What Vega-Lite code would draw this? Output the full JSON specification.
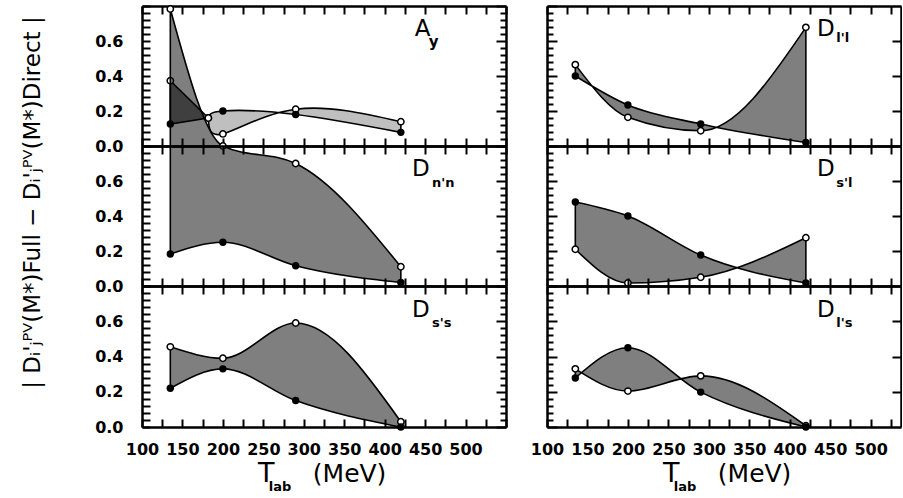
{
  "$schema": "https://vega.github.io/schema/vega-lite/v6.json",
  "padding": {"left": 20, "top": -2, "right": 0, "bottom": 0},
  "background": "white",
  "bounds": "flush",
  "columns": 2,
  "spacing": {"row": 0, "column": 41},
  "datasets": {
    "curves": [
      {"p": "Ay", "s": 1, "T": 135, "o": 0.373, "f": 0.126},
      {"p": "Ay", "s": 1, "T": 182, "o": 0.16, "f": 0.16},
      {"p": "Ay", "s": 2, "T": 182, "o": 0.16, "f": 0.16},
      {"p": "Ay", "s": 2, "T": 200, "o": 0.069, "f": 0.2},
      {"p": "Ay", "s": 2, "T": 290, "o": 0.21, "f": 0.18},
      {"p": "Ay", "s": 2, "T": 420, "o": 0.139, "f": 0.078},
      {"p": "Dnn", "s": 1, "T": 135, "o": 1.583, "f": 0.183},
      {"p": "Dnn", "s": 1, "T": 200, "o": 0.8, "f": 0.25},
      {"p": "Dnn", "s": 1, "T": 290, "o": 0.7, "f": 0.116},
      {"p": "Dnn", "s": 1, "T": 420, "o": 0.11, "f": 0.02},
      {"p": "Dss", "s": 1, "T": 135, "o": 0.455, "f": 0.22},
      {"p": "Dss", "s": 1, "T": 200, "o": 0.39, "f": 0.33},
      {"p": "Dss", "s": 1, "T": 290, "o": 0.59, "f": 0.15},
      {"p": "Dss", "s": 1, "T": 420, "o": 0.03, "f": 0.0},
      {"p": "Dll", "s": 1, "T": 135, "o": 0.465, "f": 0.4},
      {"p": "Dll", "s": 1, "T": 200, "o": 0.164, "f": 0.234},
      {"p": "Dll", "s": 1, "T": 290, "o": 0.087, "f": 0.126},
      {"p": "Dll", "s": 1, "T": 420, "o": 0.678, "f": 0.02},
      {"p": "Dsl", "s": 1, "T": 135, "o": 0.21, "f": 0.48},
      {"p": "Dsl", "s": 1, "T": 200, "o": 0.017, "f": 0.4},
      {"p": "Dsl", "s": 1, "T": 290, "o": 0.05, "f": 0.177},
      {"p": "Dsl", "s": 1, "T": 420, "o": 0.276, "f": 0.017},
      {"p": "Dls", "s": 1, "T": 135, "o": 0.33, "f": 0.278},
      {"p": "Dls", "s": 1, "T": 200, "o": 0.204, "f": 0.45},
      {"p": "Dls", "s": 1, "T": 290, "o": 0.29, "f": 0.198},
      {"p": "Dls", "s": 1, "T": 420, "o": 0.007, "f": 0.0}
    ]
  },
  "concat": [
    {
      "width": 364, "height": 140,
      "data": {"name": "curves"},
      "resolve": {"axis": {"x": "independent", "y": "independent"}},
      "layer": [
        {
          "transform": [{"filter": "datum.p == 'Ay'"}],
          "mark": {"type": "area", "interpolate": "natural", "fill": "black", "stroke": "black", "strokeWidth": 1.6},
          "encoding": {
            "x": {"field": "T", "type": "quantitative", "scale": {"domain": [100, 550], "nice": false, "zero": false},
              "axis": {"orient": "bottom", "values": [100,125,150,175,200,225,250,275,300,325,350,375,400,425,450,475,500,525,550], "ticks": true, "tickColor": "black", "tickWidth": 2, "tickSize": -8, "labels": false, "title": null, "zindex": 1}},
            "y": {"field": "o", "type": "quantitative", "stack": null, "scale": {"domain": [0, 0.8], "nice": false, "zero": false},
              "axis": {"orient": "left", "values": [0,0.04,0.08,0.12,0.16,0.2,0.24,0.28,0.32,0.36,0.4,0.44,0.48,0.52,0.56,0.6,0.64,0.68,0.72,0.76,0.8], "ticks": true, "tickColor": "black", "tickWidth": 2, "tickSize": -8, "labelExpr": "abs(datum.value * 5 - round(datum.value * 5)) < 0.01 && datum.value < 0.7 ? format(datum.value, '.1f') : ''", "labelPadding": 27, "labelOverlap": false, "labelFlush": false, "title": null, "zindex": 1}},
            "y2": {"field": "f"},
            "fillOpacity": {"field": "s", "type": "ordinal", "scale": {"domain": [1, 2], "range": [0.5, 0.25]}, "legend": null}
          }
        },
        {
          "transform": [{"filter": "datum.p == 'Ay'"}],
          "mark": {"type": "point", "shape": "circle", "filled": true, "fill": "white", "stroke": "black", "strokeWidth": 1.5, "size": 40, "opacity": 1},
          "encoding": {
            "x": {"field": "T", "type": "quantitative", "scale": {"domain": [100, 550], "nice": false, "zero": false},
              "axis": {"orient": "top", "values": [100,125,150,175,200,225,250,275,300,325,350,375,400,425,450,475,500,525,550], "ticks": true, "tickColor": "black", "tickWidth": 2, "tickSize": -8, "labels": false, "zindex": 1,
                "title": "A", "titleX": 280, "titleY": 29.75, "titleAngle": 0, "titleAlign": "center", "titleBaseline": "alphabetic", "titleFontSize": 23}},
            "y": {"field": "o", "type": "quantitative", "scale": {"domain": [0, 0.8], "nice": false, "zero": false},
              "axis": {"orient": "right", "values": [0,0.04,0.08,0.12,0.16,0.2,0.24,0.28,0.32,0.36,0.4,0.44,0.48,0.52,0.56,0.6,0.64,0.68,0.72,0.76,0.8], "ticks": true, "tickColor": "black", "tickWidth": 2, "tickSize": {"expr": "abs(datum.value * 5 - round(datum.value * 5)) < 0.01 ? -10 : -6"}, "labels": false, "zindex": 1,
                "title": "y", "titleX": -77.7, "titleY": 40.25, "titleAngle": 0, "titleAlign": "left", "titleBaseline": "alphabetic", "titleFontSize": 15, "titleFontWeight": "bold"}}
          }
        },
        {
          "transform": [{"filter": "datum.p == 'Ay' && datum.T != 182"}],
          "mark": {"type": "circle", "size": 55, "color": "black", "opacity": 1},
          "encoding": {
            "x": {"field": "T", "type": "quantitative", "scale": {"domain": [100, 550], "nice": false, "zero": false}, "axis": null},
            "y": {"field": "f", "type": "quantitative", "scale": {"domain": [0, 0.8], "nice": false, "zero": false}, "axis": null}
          }
        }
      ]
    },
    {
      "width": 354, "height": 140,
      "data": {"name": "curves"},
      "resolve": {"axis": {"x": "independent", "y": "independent"}},
      "layer": [
        {
          "transform": [{"filter": "datum.p == 'Dll'"}],
          "mark": {"type": "area", "interpolate": "monotone", "fill": "black", "fillOpacity": 0.5, "stroke": "black", "strokeWidth": 1.6},
          "encoding": {
            "x": {"field": "T", "type": "quantitative", "scale": {"domain": [100, 537.6], "nice": false, "zero": false},
              "axis": {"orient": "bottom", "values": [100,125,150,175,200,225,250,275,300,325,350,375,400,425,450,475,500,525], "ticks": true, "tickColor": "black", "tickWidth": 2, "tickSize": -8, "labels": false, "title": null, "zindex": 1}},
            "y": {"field": "o", "type": "quantitative", "stack": null, "scale": {"domain": [0, 0.8], "nice": false, "zero": false},
              "axis": {"orient": "left", "values": [0,0.04,0.08,0.12,0.16,0.2,0.24,0.28,0.32,0.36,0.4,0.44,0.48,0.52,0.56,0.6,0.64,0.68,0.72,0.76,0.8], "ticks": true, "tickColor": "black", "tickWidth": 2, "tickSize": {"expr": "abs(datum.value * 5 - round(datum.value * 5)) < 0.01 ? -10 : -6"}, "labels": false, "title": null, "zindex": 1}},
            "y2": {"field": "f"}
          }
        },
        {
          "transform": [{"filter": "datum.p == 'Dll'"}],
          "mark": {"type": "point", "shape": "circle", "filled": true, "fill": "white", "stroke": "black", "strokeWidth": 1.5, "size": 40, "opacity": 1},
          "encoding": {
            "x": {"field": "T", "type": "quantitative", "scale": {"domain": [100, 537.6], "nice": false, "zero": false},
              "axis": {"orient": "top", "values": [100,125,150,175,200,225,250,275,300,325,350,375,400,425,450,475,500,525], "ticks": true, "tickColor": "black", "tickWidth": 2, "tickSize": -8, "labels": false, "zindex": 1,
                "title": "D", "titleX": 278.3, "titleY": 29.75, "titleAngle": 0, "titleAlign": "center", "titleBaseline": "alphabetic", "titleFontSize": 23}},
            "y": {"field": "o", "type": "quantitative", "scale": {"domain": [0, 0.8], "nice": false, "zero": false},
              "axis": {"orient": "right", "values": [0.2, 0.4, 0.6], "ticks": true, "tickColor": "black", "tickWidth": 2, "tickSize": -9, "labels": false, "zindex": 1,
                "title": "l'l", "titleX": -65.2, "titleY": 35, "titleAngle": 0, "titleAlign": "left", "titleBaseline": "alphabetic", "titleFontSize": 13, "titleFontWeight": "bold"}}
          }
        },
        {
          "transform": [{"filter": "datum.p == 'Dll'"}],
          "mark": {"type": "circle", "size": 55, "color": "black", "opacity": 1},
          "encoding": {
            "x": {"field": "T", "type": "quantitative", "scale": {"domain": [100, 537.6], "nice": false, "zero": false}, "axis": null},
            "y": {"field": "f", "type": "quantitative", "scale": {"domain": [0, 0.8], "nice": false, "zero": false}, "axis": null}
          }
        }
      ]
    },
    {
      "width": 364, "height": 140,
      "data": {"name": "curves"},
      "resolve": {"axis": {"x": "independent", "y": "independent"}},
      "layer": [
        {
          "transform": [{"filter": "datum.p == 'Dnn'"}],
          "mark": {"type": "area", "interpolate": "monotone", "fill": "black", "fillOpacity": 0.5, "stroke": "black", "strokeWidth": 1.6},
          "encoding": {
            "x": {"field": "T", "type": "quantitative", "scale": {"domain": [100, 550], "nice": false, "zero": false},
              "axis": {"orient": "bottom", "values": [100,125,150,175,200,225,250,275,300,325,350,375,400,425,450,475,500,525,550], "ticks": true, "tickColor": "black", "tickWidth": 2, "tickSize": -8, "labels": false, "title": null, "zindex": 1}},
            "y": {"field": "o", "type": "quantitative", "stack": null, "scale": {"domain": [0, 0.8], "nice": false, "zero": false},
              "axis": {"orient": "left", "values": [0,0.04,0.08,0.12,0.16,0.2,0.24,0.28,0.32,0.36,0.4,0.44,0.48,0.52,0.56,0.6,0.64,0.68,0.72,0.76,0.8], "ticks": true, "tickColor": "black", "tickWidth": 2, "tickSize": -8, "labelExpr": "abs(datum.value * 5 - round(datum.value * 5)) < 0.01 && datum.value < 0.7 ? format(datum.value, '.1f') : ''", "labelPadding": 27, "labelOverlap": false, "labelFlush": false, "zindex": 1,
                "title": "|  Dᵢ'ⱼᴾⱽ(M*)Full  −  Dᵢ'ⱼᴾⱽ(M*)Direct  |", "titleFontSize": 23, "titleX": -98, "titleY": 56, "titleAngle": 270, "titleBaseline": "bottom", "titleAlign": "center"}},
            "y2": {"field": "f"}
          }
        },
        {
          "transform": [{"filter": "datum.p == 'Dnn'"}],
          "mark": {"type": "point", "shape": "circle", "filled": true, "fill": "white", "stroke": "black", "strokeWidth": 1.5, "size": 40, "opacity": 1},
          "encoding": {
            "x": {"field": "T", "type": "quantitative", "scale": {"domain": [100, 550], "nice": false, "zero": false},
              "axis": {"orient": "top", "values": [100,125,150,175,200,225,250,275,300,325,350,375,400,425,450,475,500,525,550], "ticks": true, "tickColor": "black", "tickWidth": 2, "tickSize": -8, "labels": false, "zindex": 1,
                "title": "D", "titleX": 278.3, "titleY": 29.75, "titleAngle": 0, "titleAlign": "center", "titleBaseline": "alphabetic", "titleFontSize": 23}},
            "y": {"field": "o", "type": "quantitative", "scale": {"domain": [0, 0.8], "nice": false, "zero": false},
              "axis": {"orient": "right", "values": [0,0.04,0.08,0.12,0.16,0.2,0.24,0.28,0.32,0.36,0.4,0.44,0.48,0.52,0.56,0.6,0.64,0.68,0.72,0.76,0.8], "ticks": true, "tickColor": "black", "tickWidth": 2, "tickSize": {"expr": "abs(datum.value * 5 - round(datum.value * 5)) < 0.01 ? -10 : -6"}, "labels": false, "zindex": 1,
                "title": "n'n", "titleX": -74.4, "titleY": 40.25, "titleAngle": 0, "titleAlign": "left", "titleBaseline": "alphabetic", "titleFontSize": 13, "titleFontWeight": "bold"}}
          }
        },
        {
          "transform": [{"filter": "datum.p == 'Dnn'"}],
          "mark": {"type": "circle", "size": 55, "color": "black", "opacity": 1},
          "encoding": {
            "x": {"field": "T", "type": "quantitative", "scale": {"domain": [100, 550], "nice": false, "zero": false}, "axis": null},
            "y": {"field": "f", "type": "quantitative", "scale": {"domain": [0, 0.8], "nice": false, "zero": false}, "axis": null}
          }
        }
      ]
    },
    {
      "width": 354, "height": 140,
      "data": {"name": "curves"},
      "resolve": {"axis": {"x": "independent", "y": "independent"}},
      "layer": [
        {
          "transform": [{"filter": "datum.p == 'Dsl'"}],
          "mark": {"type": "area", "interpolate": "monotone", "fill": "black", "fillOpacity": 0.5, "stroke": "black", "strokeWidth": 1.6},
          "encoding": {
            "x": {"field": "T", "type": "quantitative", "scale": {"domain": [100, 537.6], "nice": false, "zero": false},
              "axis": {"orient": "bottom", "values": [100,125,150,175,200,225,250,275,300,325,350,375,400,425,450,475,500,525], "ticks": true, "tickColor": "black", "tickWidth": 2, "tickSize": -8, "labels": false, "title": null, "zindex": 1}},
            "y": {"field": "o", "type": "quantitative", "stack": null, "scale": {"domain": [0, 0.8], "nice": false, "zero": false},
              "axis": {"orient": "left", "values": [0,0.04,0.08,0.12,0.16,0.2,0.24,0.28,0.32,0.36,0.4,0.44,0.48,0.52,0.56,0.6,0.64,0.68,0.72,0.76,0.8], "ticks": true, "tickColor": "black", "tickWidth": 2, "tickSize": {"expr": "abs(datum.value * 5 - round(datum.value * 5)) < 0.01 ? -10 : -6"}, "labels": false, "title": null, "zindex": 1}},
            "y2": {"field": "f"}
          }
        },
        {
          "transform": [{"filter": "datum.p == 'Dsl'"}],
          "mark": {"type": "point", "shape": "circle", "filled": true, "fill": "white", "stroke": "black", "strokeWidth": 1.5, "size": 40, "opacity": 1},
          "encoding": {
            "x": {"field": "T", "type": "quantitative", "scale": {"domain": [100, 537.6], "nice": false, "zero": false},
              "axis": {"orient": "top", "values": [100,125,150,175,200,225,250,275,300,325,350,375,400,425,450,475,500,525], "ticks": true, "tickColor": "black", "tickWidth": 2, "tickSize": -8, "labels": false, "zindex": 1,
                "title": "D", "titleX": 278.3, "titleY": 29.75, "titleAngle": 0, "titleAlign": "center", "titleBaseline": "alphabetic", "titleFontSize": 23}},
            "y": {"field": "o", "type": "quantitative", "scale": {"domain": [0, 0.8], "nice": false, "zero": false},
              "axis": {"orient": "right", "values": [0.2, 0.4, 0.6], "ticks": true, "tickColor": "black", "tickWidth": 2, "tickSize": -9, "labels": false, "zindex": 1,
                "title": "s'l", "titleX": -65.2, "titleY": 40.25, "titleAngle": 0, "titleAlign": "left", "titleBaseline": "alphabetic", "titleFontSize": 13, "titleFontWeight": "bold"}}
          }
        },
        {
          "transform": [{"filter": "datum.p == 'Dsl'"}],
          "mark": {"type": "circle", "size": 55, "color": "black", "opacity": 1},
          "encoding": {
            "x": {"field": "T", "type": "quantitative", "scale": {"domain": [100, 537.6], "nice": false, "zero": false}, "axis": null},
            "y": {"field": "f", "type": "quantitative", "scale": {"domain": [0, 0.8], "nice": false, "zero": false}, "axis": null}
          }
        }
      ]
    },
    {
      "width": 364, "height": 141,
      "data": {"name": "curves"},
      "resolve": {"axis": {"x": "independent", "y": "independent"}},
      "layer": [
        {
          "transform": [{"filter": "datum.p == 'Dss'"}],
          "mark": {"type": "area", "interpolate": "monotone", "fill": "black", "fillOpacity": 0.5, "stroke": "black", "strokeWidth": 1.6},
          "encoding": {
            "x": {"field": "T", "type": "quantitative", "scale": {"domain": [100, 550], "nice": false, "zero": false},
              "axis": {"orient": "bottom", "values": [100,125,150,175,200,225,250,275,300,325,350,375,400,425,450,475,500,525,550], "ticks": true, "tickColor": "black", "tickWidth": 2, "tickSize": -8, "labelExpr": "datum.value % 50 == 0 && datum.value <= 500 ? datum.value : ''", "labelPadding": 22, "labelFlush": false, "labelOverlap": false, "zindex": 1,
                "title": "T", "titleX": 123.8, "titleY": 54.5, "titleAngle": 0, "titleAlign": "center", "titleBaseline": "alphabetic", "titleFontSize": 27}},
            "y": {"field": "o", "type": "quantitative", "stack": null, "scale": {"domain": [0, 0.8], "nice": false, "zero": false},
              "axis": {"orient": "left", "values": [0,0.04,0.08,0.12,0.16,0.2,0.24,0.28,0.32,0.36,0.4,0.44,0.48,0.52,0.56,0.6,0.64,0.68,0.72,0.76,0.8], "ticks": true, "tickColor": "black", "tickWidth": 2, "tickSize": -8, "labelExpr": "abs(datum.value * 5 - round(datum.value * 5)) < 0.01 && datum.value < 0.7 ? format(datum.value, '.1f') : ''", "labelPadding": 27, "labelOverlap": false, "labelFlush": false, "zindex": 1,
                "title": "(MeV)", "titleX": 207.1, "titleY": 195.5, "titleAngle": 0, "titleAlign": "center", "titleBaseline": "alphabetic", "titleFontSize": 25}},
            "y2": {"field": "f"}
          }
        },
        {
          "transform": [{"filter": "datum.p == 'Dss'"}],
          "mark": {"type": "point", "shape": "circle", "filled": true, "fill": "white", "stroke": "black", "strokeWidth": 1.5, "size": 40, "opacity": 1},
          "encoding": {
            "x": {"field": "T", "type": "quantitative", "scale": {"domain": [100, 550], "nice": false, "zero": false},
              "axis": {"orient": "top", "values": [100,125,150,175,200,225,250,275,300,325,350,375,400,425,450,475,500,525,550], "ticks": true, "tickColor": "black", "tickWidth": 2, "tickSize": -8, "labels": false, "zindex": 1,
                "title": "D", "titleX": 278.3, "titleY": 30, "titleAngle": 0, "titleAlign": "center", "titleBaseline": "alphabetic", "titleFontSize": 23}},
            "y": {"field": "o", "type": "quantitative", "scale": {"domain": [0, 0.8], "nice": false, "zero": false},
              "axis": {"orient": "right", "values": [0,0.04,0.08,0.12,0.16,0.2,0.24,0.28,0.32,0.36,0.4,0.44,0.48,0.52,0.56,0.6,0.64,0.68,0.72,0.76,0.8], "ticks": true, "tickColor": "black", "tickWidth": 2, "tickSize": {"expr": "abs(datum.value * 5 - round(datum.value * 5)) < 0.01 ? -10 : -6"}, "labels": false, "zindex": 1,
                "title": "s's", "titleX": -74.4, "titleY": 40.5, "titleAngle": 0, "titleAlign": "left", "titleBaseline": "alphabetic", "titleFontSize": 13, "titleFontWeight": "bold"}}
          }
        },
        {
          "transform": [{"filter": "datum.p == 'Dss'"}],
          "mark": {"type": "circle", "size": 55, "color": "black", "opacity": 1},
          "encoding": {
            "x": {"field": "T", "type": "quantitative", "scale": {"domain": [100, 550], "nice": false, "zero": false}, "axis": null},
            "y": {"field": "f", "type": "quantitative", "scale": {"domain": [0, 0.8], "nice": false, "zero": false},
              "axis": {"orient": "left", "domain": false, "ticks": false, "labels": false, "zindex": 1,
                "title": "lab", "titleX": 137.5, "titleY": 204.5, "titleAngle": 0, "titleAlign": "center", "titleBaseline": "alphabetic", "titleFontSize": 13, "titleFontWeight": "bold"}}
          }
        }
      ]
    },
    {
      "width": 354, "height": 141,
      "data": {"name": "curves"},
      "resolve": {"axis": {"x": "independent", "y": "independent"}},
      "layer": [
        {
          "transform": [{"filter": "datum.p == 'Dls'"}],
          "mark": {"type": "area", "interpolate": "monotone", "fill": "black", "fillOpacity": 0.5, "stroke": "black", "strokeWidth": 1.6},
          "encoding": {
            "x": {"field": "T", "type": "quantitative", "scale": {"domain": [100, 537.6], "nice": false, "zero": false},
              "axis": {"orient": "bottom", "values": [100,125,150,175,200,225,250,275,300,325,350,375,400,425,450,475,500,525], "ticks": true, "tickColor": "black", "tickWidth": 2, "tickSize": -8, "labelExpr": "datum.value % 50 == 0 && datum.value <= 500 ? datum.value : ''", "labelPadding": 22, "labelFlush": false, "labelOverlap": false, "zindex": 1,
                "title": "T", "titleX": 123.8, "titleY": 54.5, "titleAngle": 0, "titleAlign": "center", "titleBaseline": "alphabetic", "titleFontSize": 27}},
            "y": {"field": "o", "type": "quantitative", "stack": null, "scale": {"domain": [0, 0.8], "nice": false, "zero": false},
              "axis": {"orient": "left", "values": [0,0.04,0.08,0.12,0.16,0.2,0.24,0.28,0.32,0.36,0.4,0.44,0.48,0.52,0.56,0.6,0.64,0.68,0.72,0.76,0.8], "ticks": true, "tickColor": "black", "tickWidth": 2, "tickSize": {"expr": "abs(datum.value * 5 - round(datum.value * 5)) < 0.01 ? -10 : -6"}, "labels": false, "zindex": 1,
                "title": "(MeV)", "titleX": 207.1, "titleY": 195.5, "titleAngle": 0, "titleAlign": "center", "titleBaseline": "alphabetic", "titleFontSize": 25}},
            "y2": {"field": "f"}
          }
        },
        {
          "transform": [{"filter": "datum.p == 'Dls'"}],
          "mark": {"type": "point", "shape": "circle", "filled": true, "fill": "white", "stroke": "black", "strokeWidth": 1.5, "size": 40, "opacity": 1},
          "encoding": {
            "x": {"field": "T", "type": "quantitative", "scale": {"domain": [100, 537.6], "nice": false, "zero": false},
              "axis": {"orient": "top", "values": [100,125,150,175,200,225,250,275,300,325,350,375,400,425,450,475,500,525], "ticks": true, "tickColor": "black", "tickWidth": 2, "tickSize": -8, "labels": false, "zindex": 1,
                "title": "D", "titleX": 278.3, "titleY": 30, "titleAngle": 0, "titleAlign": "center", "titleBaseline": "alphabetic", "titleFontSize": 23}},
            "y": {"field": "o", "type": "quantitative", "scale": {"domain": [0, 0.8], "nice": false, "zero": false},
              "axis": {"orient": "right", "values": [0.2, 0.4, 0.6], "ticks": true, "tickColor": "black", "tickWidth": 2, "tickSize": -9, "labels": false, "zindex": 1,
                "title": "l's", "titleX": -65.2, "titleY": 40.5, "titleAngle": 0, "titleAlign": "left", "titleBaseline": "alphabetic", "titleFontSize": 13, "titleFontWeight": "bold"}}
          }
        },
        {
          "transform": [{"filter": "datum.p == 'Dls'"}],
          "mark": {"type": "circle", "size": 55, "color": "black", "opacity": 1},
          "encoding": {
            "x": {"field": "T", "type": "quantitative", "scale": {"domain": [100, 537.6], "nice": false, "zero": false}, "axis": null},
            "y": {"field": "f", "type": "quantitative", "scale": {"domain": [0, 0.8], "nice": false, "zero": false},
              "axis": {"orient": "left", "domain": false, "ticks": false, "labels": false, "zindex": 1,
                "title": "lab", "titleX": 137.5, "titleY": 204.5, "titleAngle": 0, "titleAlign": "center", "titleBaseline": "alphabetic", "titleFontSize": 13, "titleFontWeight": "bold"}}
          }
        }
      ]
    }
  ],
  "config": {
    "view": {"stroke": null},
    "axis": {
      "domainColor": "black", "domainWidth": 2.5, "tickColor": "black", "tickWidth": 2,
      "labelColor": "black", "labelFont": "DejaVu Sans", "labelFontWeight": "bold", "labelFontSize": 16,
      "grid": false, "titleColor": "black", "titleFont": "DejaVu Sans", "titleFontWeight": "normal"
    }
  }
}
